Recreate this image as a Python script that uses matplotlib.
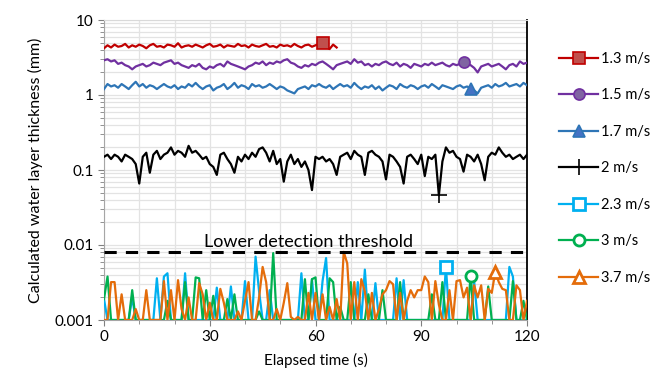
import numpy as np
import matplotlib
matplotlib.use("Agg")
import matplotlib.pyplot as plt
from matplotlib.ticker import FixedLocator, NullFormatter, LogLocator

plt.rcParams['font.family'] = ['Lato', 'DejaVu Sans']

# below-detection values are drawn at the axis floor
lo = 0.001

labels = ['1.3 m/s', '1.5 m/s', '1.7 m/s', '2 m/s', '2.3 m/s', '3 m/s', '3.7 m/s']

v13 = [4.2, 4.6, 4.3, 4.7, 4.4, 4.5, 4.8, 4.3, 4.6, 4.4,
       4.7, 4.5, 4.2, 4.6, 4.8, 4.4, 4.5, 4.3, 4.7, 4.6,
       4.4, 4.9, 4.3, 4.5, 4.6, 4.4, 4.7, 4.5, 4.3, 4.6,
       4.8, 4.4, 4.5, 4.7, 4.3, 4.6, 4.5, 4.4, 4.8, 4.5,
       4.6, 4.3, 4.7, 4.5, 4.4, 4.6, 4.8, 4.4, 4.5, 4.3,
       4.7, 4.5, 4.6, 4.4, 4.8, 4.5, 4.3, 4.6, 4.7, 4.4,
       4.6, 4.8, 4.9, 4.4, 4.1, 4.7, 4.3]

v15 = [2.9, 3.0, 2.8, 2.9, 2.6, 2.7, 2.5, 2.4, 2.2, 2.4,
       2.5, 2.6, 2.4, 2.5, 2.7, 2.6, 2.5, 2.7, 2.8, 2.9,
       2.6, 2.7, 2.5, 2.4, 2.3, 2.5, 2.4, 2.6, 2.3, 2.2,
       2.4, 2.3, 2.5, 2.6, 2.4, 2.8, 2.6, 2.5, 2.4, 2.3,
       2.2, 2.4, 2.5, 2.7, 2.6, 2.8, 2.5, 2.7, 2.6, 2.8,
       2.7, 2.9, 3.0, 2.7, 2.6, 2.4, 2.3, 2.5, 2.4, 2.6,
       2.5, 2.7, 2.8, 2.6, 2.4, 2.2, 2.5, 2.6, 2.7, 2.8,
       2.6, 3.0, 2.7, 2.8, 2.5, 2.6, 2.4, 2.6, 2.5, 2.7,
       2.8, 2.6, 2.5, 2.7, 2.4, 2.6, 2.5, 2.3, 2.6, 2.5,
       2.4, 2.6, 2.5, 2.7, 2.5, 2.6, 2.7, 2.5, 2.4, 2.6,
       2.5, 2.6, 2.75, 2.6, 2.5, 2.3, 2.0, 2.4, 2.5, 2.6,
       2.4, 2.5, 2.6, 2.4, 2.2, 2.5, 2.6, 2.4, 2.8, 2.6,
       2.7]

v17 = [1.2, 1.4, 1.3, 1.35, 1.25, 1.4, 1.3, 1.2, 1.35, 1.5,
       1.3, 1.4, 1.25, 1.35, 1.3, 1.2, 1.3, 1.4, 1.3, 1.25,
       1.35, 1.2, 1.3, 1.25, 1.4, 1.3, 1.45, 1.3, 1.2, 1.3,
       1.35, 1.15, 1.25, 1.3, 1.4, 1.2, 1.3, 1.45, 1.25, 1.35,
       1.3, 1.2, 1.4, 1.3, 1.35, 1.25, 1.3, 1.4, 1.3, 1.2,
       1.3, 1.25, 1.15, 1.1, 1.05, 1.2, 1.25, 1.3, 1.2, 1.35,
       1.3, 1.4, 1.3, 1.25, 1.35, 1.2, 1.3, 1.4, 1.3, 1.35,
       1.25, 1.45, 1.3, 1.2, 1.3, 1.25, 1.35, 1.2, 1.3, 1.15,
       1.25, 1.35, 1.3, 1.2, 1.4, 1.3, 1.25, 1.35, 1.3, 1.2,
       1.3, 1.35, 1.25, 1.4, 1.3, 1.2, 1.35, 1.3, 1.25, 1.2,
       1.3, 1.35, 1.25, 1.3, 1.22, 1.15, 1.05, 1.25, 1.3, 1.35,
       1.25, 1.4, 1.3, 1.35, 1.45, 1.3, 1.35, 1.4, 1.3, 1.45,
       1.35]

v20 = [0.15, 0.16, 0.14, 0.16, 0.15, 0.13, 0.16, 0.15, 0.14, 0.12,
       0.066, 0.15, 0.17, 0.092, 0.16, 0.18, 0.14, 0.16, 0.17, 0.2,
       0.16, 0.18, 0.17, 0.15, 0.21, 0.17, 0.18, 0.16, 0.14, 0.15,
       0.12, 0.11, 0.086, 0.16, 0.17, 0.14, 0.12, 0.092, 0.15, 0.13,
       0.16, 0.14, 0.17, 0.15, 0.19, 0.2, 0.17, 0.13, 0.18, 0.12,
       0.14, 0.07, 0.13, 0.16, 0.12, 0.14, 0.11, 0.13, 0.10, 0.054,
       0.15, 0.14, 0.15, 0.13, 0.14, 0.12, 0.086, 0.15, 0.16, 0.17,
       0.14, 0.18, 0.16, 0.15, 0.086, 0.17, 0.18, 0.16, 0.15, 0.13,
       0.075, 0.16, 0.15, 0.13, 0.11, 0.066, 0.15, 0.16, 0.14, 0.12,
       0.16, 0.083, 0.15, 0.14, 0.16, 0.046, 0.13, 0.2, 0.17, 0.18,
       0.15, 0.14, 0.095, 0.16, 0.15, 0.13, 0.16, 0.12, 0.073, 0.15,
       0.17, 0.16, 0.2, 0.17, 0.15, 0.16, 0.14, 0.15, 0.16, 0.14,
       0.16]

v23 = [0.0019, lo, lo, lo, lo, lo, lo, lo, 0.0020, lo,
       lo, lo, lo, lo, lo, 0.0036, lo, 0.0038, 0.0042, lo,
       lo, lo, lo, 0.0042, lo, lo, lo, lo, lo, lo,
       lo, lo, 0.0027, lo, lo, lo, 0.0028, lo, lo, lo,
       0.0033, lo, lo, 0.0070, 0.0024, lo, lo, 0.0025, lo, lo,
       lo, lo, lo, lo, lo, lo, 0.0042, lo, lo, 0.0035,
       lo, lo, 0.0033, 0.0067, lo, lo, lo, lo, lo, lo,
       lo, lo, 0.0032, lo, 0.0047, lo, lo, 0.0031, lo, lo,
       lo, lo, lo, 0.0036, lo, 0.0034, lo, lo, lo, lo,
       lo, lo, lo, lo, lo, lo, lo, 0.0051, lo, lo,
       lo, lo, lo, lo, lo, 0.0033, lo, lo, lo, lo,
       lo, lo, lo, lo, lo, 0.0051, 0.0038, lo, lo, lo,
       lo]

v30 = [0.0019, 0.0038, lo, lo, lo, lo, lo, lo, 0.0025, lo,
       lo, lo, lo, lo, lo, lo, lo, lo, 0.0018, lo,
       lo, lo, lo, 0.0032, lo, lo, 0.0037, 0.0036, lo, 0.0025,
       lo, 0.0021, lo, lo, lo, 0.0019, lo, 0.0022, lo, lo,
       lo, lo, lo, lo, 0.0013, lo, lo, lo, 0.0078, lo,
       lo, lo, lo, lo, lo, lo, lo, 0.0035, lo, 0.0035,
       0.0037, lo, lo, lo, 0.0036, 0.0032, lo, 0.0015, lo, lo,
       0.0032, lo, lo, lo, lo, 0.0022, lo, lo, lo, 0.0025,
       lo, lo, lo, lo, 0.0032, lo, lo, lo, lo, lo,
       lo, lo, lo, 0.0022, lo, lo, 0.0032, lo, lo, lo,
       lo, lo, lo, lo, 0.0039, lo, lo, lo, lo, 0.0028,
       lo, lo, lo, lo, lo, lo, 0.0033, lo, lo, 0.0018,
       lo]

v37 = [lo, lo, 0.0032, 0.0032, lo, 0.0022, lo, lo, lo, 0.0014,
       lo, lo, 0.0025, lo, lo, lo, lo, 0.0033, lo, 0.0025,
       lo, 0.0034, 0.0014, lo, 0.0020, lo, lo, 0.0031, 0.0022, lo,
       0.0017, lo, lo, 0.0026, 0.0017, lo, lo, lo, 0.0013, lo,
       0.0018, 0.0032, lo, lo, 0.0020, 0.0051, 0.0032, lo, lo, 0.0014,
       lo, 0.0017, 0.0031, 0.0011, lo, 0.0011, lo, lo, 0.0023, lo,
       0.0023, lo, 0.0022, lo, 0.0015, lo, 0.0019, lo, 0.0081, 0.0057,
       lo, 0.0032, lo, 0.0035, 0.0024, lo, 0.0023, lo, 0.0014, 0.0022,
       0.0025, 0.0033, 0.0030, lo, 0.0023, lo, 0.0018, 0.0025, 0.0020, 0.0025,
       0.0025, 0.0038, 0.0032, lo, 0.0033, 0.0016, lo, lo, 0.0025, lo,
       0.0033, 0.0034, 0.0020, 0.0027, lo, 0.0029, 0.0020, 0.0029, lo, 0.0026,
       0.0023, 0.0044, 0.0032, 0.0026, 0.0025, lo, lo, 0.0029, 0.0025, lo,
       0.0018]

threshold = 0.008

series = [v13, v15, v17, v20, v23, v30, v37]
colors = ['#C00000', '#7030A0', '#2E75B6', '#000000', '#00B0F0', '#00B050', '#E46C0A']
faces = ['#C0504D', '#8064A2', '#4472C4', '#000000', 'white', 'white', 'white']
markers = ['s', 'o', '^', '+', 's', 'o', '^']
mark_at = [62, 102, 104, 95, 97, 104, 111]

fig = plt.figure(figsize=(6.59, 3.80), dpi=100)
ax = fig.add_axes([104 / 659, 60 / 380, 423 / 659, 300 / 380])

handles = []
for vals, c, fc, m, mi, lab in zip(series, colors, faces, markers, mark_at, labels):
    t = np.arange(len(vals))
    ms = 8 if m in ('s', 'o', '^') else 11
    mew = 2 if fc == 'white' else 1.2
    h, = ax.plot(t, vals, color=c, lw=1.6, marker=m, markevery=[mi], ms=ms,
                 mfc=fc, mec=c, mew=mew, label=lab, zorder=3)
    handles.append(h)

ax.plot([0, 120], [threshold, threshold], color='black', lw=2.2, ls=(0, (4, 3)), zorder=4)
ax.text(58, threshold * 1.08, 'Lower detection threshold', ha='center', va='bottom', fontsize=13)

ax.set_yscale('log')
ax.set_ylim(0.001, 10)
ax.set_xlim(0, 120)
ax.set_xticks([0, 30, 60, 90, 120])
ax.xaxis.set_minor_locator(FixedLocator(np.arange(0, 121, 10)))
ax.set_yticks([0.001, 0.01, 0.1, 1, 10])
ax.set_yticklabels(['0.001', '0.01', '0.1', '1', '10'])
ax.yaxis.set_minor_locator(LogLocator(base=10, subs=np.arange(2, 10)))
ax.yaxis.set_minor_formatter(NullFormatter())
ax.tick_params(axis='both', which='both', direction='out', colors='#808080', labelcolor='black', labelsize=11)
ax.tick_params(axis='both', which='major', length=4)
ax.tick_params(axis='both', which='minor', length=3)
ax.grid(True, which='both', color='#E3E3E3', lw=0.9, zorder=0)
ax.set_axisbelow(True)
for s in ['left', 'bottom']:
    ax.spines[s].set_color('#A6A6A6')
ax.spines['top'].set_color('#D9D9D9')
ax.spines['right'].set_color('black')
ax.spines['right'].set_linewidth(1.3)

ax.set_xlabel('Elapsed time (s)', fontsize=11, labelpad=6)
ax.set_ylabel('Calculated water layer thickness (mm)', fontsize=11.5, labelpad=8)

fig.legend(handles=handles, labels=labels, loc='upper left',
           bbox_to_anchor=(559 / 659, 1 - 52 / 380), frameon=False, fontsize=10.5,
           handlelength=2.7, handletextpad=0.2, labelspacing=1.54, borderpad=0, borderaxespad=0)

fig.savefig('out.png', dpi=100)
